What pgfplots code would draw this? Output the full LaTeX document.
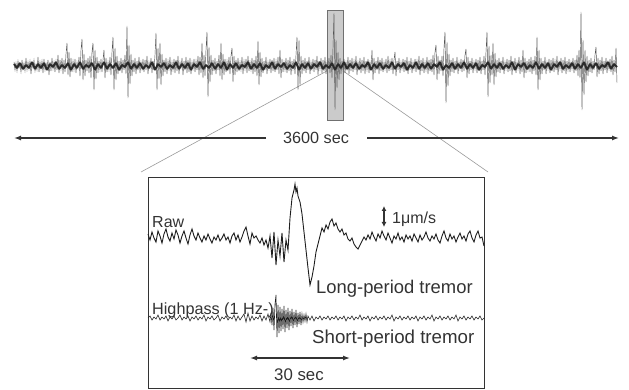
\documentclass[border=0pt]{standalone}
\usepackage{pgfplots}
\pgfplotsset{compat=1.18}
\usepackage{fontspec}
\setmainfont{Liberation Sans}
\usetikzlibrary{arrows.meta}
\definecolor{tracec}{HTML}{1E1E1E}
\definecolor{corec}{HTML}{2A2A2A}
\definecolor{fringec}{HTML}{555555}
\definecolor{rectfill}{HTML}{CBCBCB}
\definecolor{rectdraw}{HTML}{707070}
\definecolor{zoomline}{HTML}{9A9A9A}
\definecolor{inkc}{HTML}{333333}
\begin{document}
\begin{tikzpicture}
\begin{axis}[
  width=629pt, height=390pt, scale only axis,
  xmin=0, xmax=629, ymin=0, ymax=390, y dir=reverse,
  hide axis, clip=false,
]
\path[draw=none] (rel axis cs:0,0) rectangle (rel axis cs:1,1);
% zoom lines
\draw[zoomline, line width=0.6pt] (axis cs:336,66) -- (axis cs:141,172);
\draw[zoomline, line width=0.6pt] (axis cs:336,66) -- (axis cs:488,172);
% gray selection rectangle
\draw[rectdraw, fill=rectfill, line width=0.8pt] (axis cs:327,10) rectangle (axis cs:343,120);
% top trace (3600 sec)
\addplot[fringec, line width=0.45pt, mark=none] coordinates {
(14,62)(15,70)(16,63)(17,71)(18,61)(19,68)(20,64)(21,72)(22,60)(23,69)
(24,63)(25,71)(26,58)(27,70)(28,62)(29,69)(30,61)(31,74)(32,63)(33,68)
(34,60)(35,71)(36,64)(37,70)(38,57)(39,72)(40,62)(41,69)(42,61)(43,73)
(44,59)(45,70)(46,63)(47,68)(48,60)(49,75)(50,62)(51,71)(52,58)(53,69)
(54,62)(55,72)(56,61)(57,70)(58,55)(59,73)(60,60)(61,69)(62,58)(63,74)
(64,60)(65,72)(66,54)(67,43)(68,75)(69,52)(70,77)(71,58)(72,72)(73,61)
(74,70)(75,59)(76,73)(77,62)(78,68)(79,57)(80,76)(81,50)(82,39)(83,80)
(84,54)(85,76)(86,60)(87,71)(88,58)(89,73)(90,56)(91,78)(92,52)(93,43)
(94,90)(95,50)(96,79)(97,57)(98,73)(99,61)(100,70)(101,59)(102,72)(103,60)
(104,50)(105,78)(106,58)(107,72)(108,62)(109,70)(110,57)(111,75)(112,52)(113,37)
(114,90)(115,48)(116,80)(117,56)(118,74)(119,61)(120,71)(121,58)(122,73)(123,60)
(124,70)(125,55)(126,74)(127,26)(128,98)(129,45)(130,84)(131,54)(132,76)(133,60)
(134,72)(135,58)(136,74)(137,61)(138,70)(139,57)(140,73)(141,62)(142,69)(143,59)
(144,72)(145,60)(146,70)(147,56)(148,74)(149,62)(150,68)(151,58)(152,73)(153,61)
(154,70)(155,55)(156,33)(157,90)(158,48)(159,79)(160,43)(161,85)(162,54)(163,76)
(164,60)(165,72)(166,58)(167,74)(168,61)(169,69)(170,57)(171,75)(172,62)(173,70)
(174,59)(175,73)(176,60)(177,71)(178,56)(179,74)(180,62)(181,68)(182,58)(183,75)
(184,61)(185,70)(186,57)(187,73)(188,60)(189,72)(190,58)(191,74)(192,62)(193,69)
(194,59)(195,72)(196,61)(197,70)(198,56)(199,75)(200,57)(201,73)(202,43)(203,78)
(204,55)(205,76)(206,50)(207,32)(208,97)(209,47)(210,82)(211,55)(212,75)(213,60)
(214,71)(215,58)(216,74)(217,61)(218,70)(219,55)(220,76)(221,43)(222,80)(223,54)
(224,75)(225,59)(226,72)(227,61)(228,69)(229,57)(230,74)(231,56)(232,48)(233,82)
(234,56)(235,75)(236,60)(237,72)(238,58)(239,71)(240,62)(241,70)(242,57)(243,74)
(244,61)(245,69)(246,59)(247,73)(248,56)(249,71)(250,62)(251,70)(252,58)(253,74)
(254,60)(255,72)(256,56)(257,76)(258,41)(259,85)(260,52)(261,77)(262,58)(263,73)
(264,61)(265,70)(266,57)(267,74)(268,62)(269,69)(270,59)(271,73)(272,60)(273,71)
(274,58)(275,72)(276,61)(277,70)(278,57)(279,74)(280,50)(281,78)(282,59)(283,72)
(284,62)(285,70)(286,58)(287,73)(288,60)(289,71)(290,57)(291,75)(292,61)(293,69)
(294,59)(295,74)(296,55)(297,37)(298,90)(299,40)(300,85)(301,56)(302,74)(303,60)
(304,71)(305,58)(306,73)(307,61)(308,70)(309,57)(310,74)(311,62)(312,69)(313,59)
(314,72)(315,60)(316,70)(317,56)(318,75)(319,61)(320,69)(321,58)(322,73)(323,60)
(324,71)(325,57)(326,74)(327,62)(328,68)(329,58)(330,73)(331,55)(332,78)(333,48)
(334,13)(335,110)(336,40)(337,88)(338,52)(339,80)(340,58)(341,74)(342,61)(343,70)
(344,59)(345,73)(346,62)(347,69)(348,57)(349,74)(350,60)(351,71)(352,58)(353,72)
(354,61)(355,70)(356,56)(357,75)(358,62)(359,69)(360,58)(361,73)(362,60)(363,71)
(364,57)(365,74)(366,61)(367,70)(368,59)(369,73)(370,62)(371,69)(372,50)(373,80)
(374,58)(375,73)(376,61)(377,70)(378,57)(379,74)(380,60)(381,71)(382,58)(383,72)
(384,62)(385,69)(386,59)(387,73)(388,56)(389,71)(390,61)(391,70)(392,58)(393,74)
(394,60)(395,52)(396,76)(397,61)(398,70)(399,58)(400,73)(401,62)(402,69)(403,59)
(404,72)(405,60)(406,71)(407,57)(408,74)(409,61)(410,70)(411,58)(412,73)(413,62)
(414,69)(415,59)(416,72)(417,61)(418,70)(419,56)(420,75)(421,60)(422,71)(423,58)
(424,73)(425,62)(426,70)(427,57)(428,74)(429,60)(430,71)(431,59)(432,72)(433,55)
(434,75)(435,52)(436,45)(437,80)(438,56)(439,74)(440,60)(441,71)(442,56)(443,76)
(444,48)(445,32)(446,103)(447,42)(448,86)(449,54)(450,76)(451,60)(452,72)(453,58)
(454,73)(455,61)(456,70)(457,57)(458,74)(459,62)(460,69)(461,59)(462,72)(463,60)
(464,71)(465,55)(466,49)(467,78)(468,57)(469,74)(470,61)(471,70)(472,58)(473,73)
(474,62)(475,69)(476,59)(477,73)(478,60)(479,71)(480,57)(481,74)(482,61)(483,70)
(484,56)(485,75)(486,52)(487,32)(488,97)(489,46)(490,83)(491,55)(492,75)(493,43)
(494,85)(495,53)(496,77)(497,60)(498,72)(499,58)(500,73)(501,61)(502,70)(503,57)
(504,74)(505,62)(506,69)(507,59)(508,72)(509,60)(510,71)(511,56)(512,75)(513,61)
(514,70)(515,58)(516,73)(517,62)(518,69)(519,57)(520,74)(521,60)(522,72)(523,50)
(524,78)(525,58)(526,73)(527,61)(528,70)(529,59)(530,72)(531,57)(532,74)(533,60)
(534,71)(535,56)(536,75)(537,37)(538,90)(539,50)(540,80)(541,58)(542,74)(543,61)
(544,70)(545,57)(546,74)(547,62)(548,69)(549,59)(550,73)(551,60)(552,71)(553,58)
(554,72)(555,61)(556,70)(557,56)(558,75)(559,62)(560,69)(561,58)(562,73)(563,60)
(564,71)(565,57)(566,74)(567,61)(568,70)(569,59)(570,72)(571,62)(572,69)(573,58)
(574,73)(575,60)(576,71)(577,55)(578,76)(579,50)(580,78)(581,12)(582,110)(583,40)
(584,95)(585,50)(586,82)(587,56)(588,76)(589,60)(590,72)(591,58)(592,73)(593,61)
(594,70)(595,55)(596,47)(597,77)(598,58)(599,74)(600,60)(601,71)(602,57)(603,74)
(604,61)(605,70)(606,58)(607,73)(608,62)(609,69)(610,59)(611,72)(612,56)(613,75)
(614,60)(615,72)(616,48)(617,83)
};
% dark core of the top trace
\addplot[corec, line width=2pt, line join=bevel, mark=none] coordinates {
(14,64)(17,68)(20,63)(23,69)(26,65)(29,68)(32,62)(35,69)(38,64)(41,68)
(44,63)(47,70)(50,64)(53,67)(56,62)(59,69)(62,65)(65,68)(68,63)(71,70)
(74,64)(77,68)(80,62)(83,69)(86,65)(89,67)(92,63)(95,70)(98,64)(101,68)
(104,62)(107,69)(110,64)(113,68)(116,63)(119,70)(122,65)(125,67)(128,62)(131,69)
(134,64)(137,68)(140,63)(143,69)(146,65)(149,68)(152,62)(155,70)(158,64)(161,67)
(164,63)(167,69)(170,65)(173,68)(176,62)(179,69)(182,64)(185,68)(188,63)(191,70)
(194,64)(197,67)(200,62)(203,69)(206,65)(209,68)(212,63)(215,69)(218,64)(221,68)
(224,62)(227,70)(230,64)(233,68)(236,63)(239,69)(242,65)(245,67)(248,62)(251,69)
(254,64)(257,68)(260,63)(263,70)(266,65)(269,68)(272,62)(275,69)(278,64)(281,67)
(284,63)(287,69)(290,65)(293,68)(296,62)(299,70)(302,64)(305,68)(308,63)(311,69)
(314,64)(317,67)(320,62)(323,69)(326,65)(329,68)(332,63)(335,70)(338,64)(341,68)
(344,62)(347,69)(350,64)(353,68)(356,63)(359,69)(362,65)(365,67)(368,62)(371,70)
(374,64)(377,68)(380,63)(383,69)(386,65)(389,68)(392,62)(395,69)(398,64)(401,67)
(404,63)(407,70)(410,65)(413,68)(416,62)(419,69)(422,64)(425,68)(428,63)(431,69)
(434,64)(437,67)(440,62)(443,70)(446,65)(449,68)(452,63)(455,69)(458,64)(461,68)
(464,62)(467,69)(470,64)(473,68)(476,63)(479,70)(482,65)(485,67)(488,62)(491,69)
(494,64)(497,68)(500,63)(503,69)(506,65)(509,68)(512,62)(515,70)(518,64)(521,67)
(524,63)(527,69)(530,65)(533,68)(536,62)(539,69)(542,64)(545,68)(548,63)(551,70)
(554,64)(557,67)(560,62)(563,69)(566,65)(569,68)(572,63)(575,69)(578,64)(581,68)
(584,62)(587,70)(590,64)(593,68)(596,63)(599,69)(602,65)(605,67)(608,62)(611,69)
(614,64)(617,67)
};
% 3600 sec arrows and label
\draw[-{Latex[length=7pt,width=5pt]}, inkc, line width=1.3pt] (axis cs:266,138) -- (axis cs:14,138);
\draw[-{Latex[length=7pt,width=5pt]}, inkc, line width=1.3pt] (axis cs:367,138) -- (axis cs:619,138);
\node[anchor=base west, inner sep=0pt, text=inkc, font=\fontsize{16.2}{19}\selectfont] at (axis cs:283,144) {3600 sec};
% inset box
\draw[inkc, line width=1pt] (axis cs:148,178) rectangle (axis cs:484,388);
% raw trace
\addplot[tracec, line width=0.9pt, mark=none] coordinates {
(148,234)(150,240)(152,232)(154,238)(156,242)(158,231)(160,236)(162,243)(164,234)(166,229)
(168,237)(170,241)(172,233)(174,239)(176,230)(178,235)(180,243)(182,236)(184,231)(186,238)
(188,244)(190,235)(192,229)(194,236)(196,240)(198,233)(200,238)(202,242)(204,236)(206,240)
(208,234)(210,239)(212,243)(214,237)(216,240)(218,235)(220,241)(222,238)(224,234)(226,240)
(228,237)(230,243)(232,236)(234,233)(236,240)(238,235)(240,242)(242,237)(244,231)(246,227)
(248,236)(250,244)(252,233)(254,238)(256,236)(258,240)(260,243)(262,238)(264,245)(266,240)
(268,248)(270,236)(272,258)(274,232)(276,265)(278,240)(280,256)(282,233)(284,262)(286,240)
(288,250)(290,218)(292,198)(294,190)(295,184)(296,192)(297,188)(298,196)(300,202)(302,214)
(304,232)(306,250)(308,268)(310,285)(312,277)(314,266)(316,252)(318,244)(320,236)(322,228)
(324,232)(326,225)(328,229)(330,222)(332,219)(334,226)(336,223)(338,229)(340,232)(342,229)
(344,235)(346,233)(348,239)(350,241)(352,238)(354,244)(356,247)(358,249)(360,245)(362,241)
(364,237)(366,240)(368,235)(370,239)(372,232)(374,237)(376,241)(378,234)(380,238)(382,231)
(384,236)(386,240)(388,233)(390,238)(392,243)(394,236)(396,239)(398,233)(400,240)(402,237)
(404,242)(406,235)(408,239)(410,236)(412,241)(414,234)(416,238)(418,242)(420,235)(422,240)
(424,237)(426,232)(428,238)(430,241)(432,236)(434,239)(436,234)(438,240)(440,243)(442,236)
(444,231)(446,238)(448,241)(450,234)(452,239)(454,236)(456,242)(458,237)(460,233)(462,239)
(464,236)(466,241)(468,234)(470,231)(472,238)(474,242)(476,235)(478,231)(480,238)(482,237)
(484,246)
};
% highpass trace
\addplot[tracec, line width=0.6pt, mark=none] coordinates {
(148,318)(150,316)(152,320)(154,317)(156,319)(158,315)(160,320)(162,317)(164,319)(166,316)
(168,321)(170,317)(172,319)(174,316)(176,320)(178,318)(180,315)(182,320)(184,317)(186,319)
(188,316)(190,321)(192,317)(194,319)(196,316)(198,320)(200,317)(202,319)(204,315)(206,321)
(208,317)(210,319)(212,316)(214,320)(216,318)(218,315)(220,321)(222,317)(224,319)(226,316)
(228,320)(230,317)(232,319)(234,315)(236,321)(238,316)(240,320)(242,317)(244,314)(246,322)
(248,313)(250,321)(252,316)(254,320)(256,317)(258,319)(260,315)(262,321)(264,316)(266,320)
(268,314)(270,322)(271,313)(272,325)(273,308)(274,330)(275,304)(276,295)(277,337)(278,305)
(279,333)(280,307)(281,331)(282,309)(283,329)(284,306)(285,332)(286,310)(287,328)(288,308)
(289,330)(290,311)(291,326)(292,309)(293,328)(294,312)(295,325)(296,310)(297,327)(298,313)
(299,324)(300,312)(301,325)(302,314)(303,322)(304,315)(305,321)(306,314)(307,322)(308,316)
(310,320)(312,316)(314,321)(316,317)(318,319)(320,316)(322,320)(324,317)(326,319)(328,316)
(330,320)(332,317)(334,319)(336,316)(338,320)(340,317)(342,319)(344,316)(346,321)(348,317)
(350,319)(352,316)(354,320)(356,317)(358,319)(360,315)(362,320)(364,317)(366,319)(368,316)
(370,321)(372,317)(374,319)(376,316)(378,320)(380,317)(382,319)(384,316)(386,320)(388,317)
(390,319)(392,315)(394,321)(396,317)(398,319)(400,316)(402,320)(404,317)(406,319)(408,316)
(410,320)(412,317)(414,319)(416,316)(418,321)(420,317)(422,319)(424,316)(426,320)(428,317)
(430,319)(432,315)(434,321)(436,317)(438,319)(440,316)(442,320)(444,317)(446,319)(448,316)
(450,320)(452,317)(454,319)(456,315)(458,321)(460,317)(462,319)(464,316)(466,320)(468,317)
(470,319)(472,316)(474,320)(476,317)(478,319)(480,316)(482,320)(484,318)
};
% labels in inset
\node[anchor=base west, inner sep=0pt, text=inkc, font=\fontsize{16}{19}\selectfont] at (axis cs:152,227) {Raw};
\draw[{Latex[length=5pt,width=5pt]}-{Latex[length=5pt,width=5pt]}, inkc, line width=1.3pt] (axis cs:384,206) -- (axis cs:384,227);
\node[anchor=base west, inner sep=0pt, text=inkc, font=\fontsize{16}{19}\selectfont] at (axis cs:392,223) {1μm/s};
\node[anchor=base west, inner sep=0pt, text=inkc, font=\fontsize{18.4}{22}\selectfont] at (axis cs:316,293) {Long-period tremor};
\node[anchor=base west, inner sep=0pt, text=inkc, font=\fontsize{16.2}{19}\selectfont] at (axis cs:152,314) {Highpass (1 Hz-)};
\node[anchor=base west, inner sep=0pt, text=inkc, font=\fontsize{18.7}{22}\selectfont] at (axis cs:312,343) {Short-period tremor};
\draw[{Latex[length=7pt,width=5pt]}-{Latex[length=7pt,width=5pt]}, inkc, line width=1.3pt] (axis cs:250,358) -- (axis cs:350,358);
\node[anchor=base west, inner sep=0pt, text=inkc, font=\fontsize{16.8}{20}\selectfont] at (axis cs:274,380) {30 sec};
\end{axis}
\end{tikzpicture}
\end{document}
